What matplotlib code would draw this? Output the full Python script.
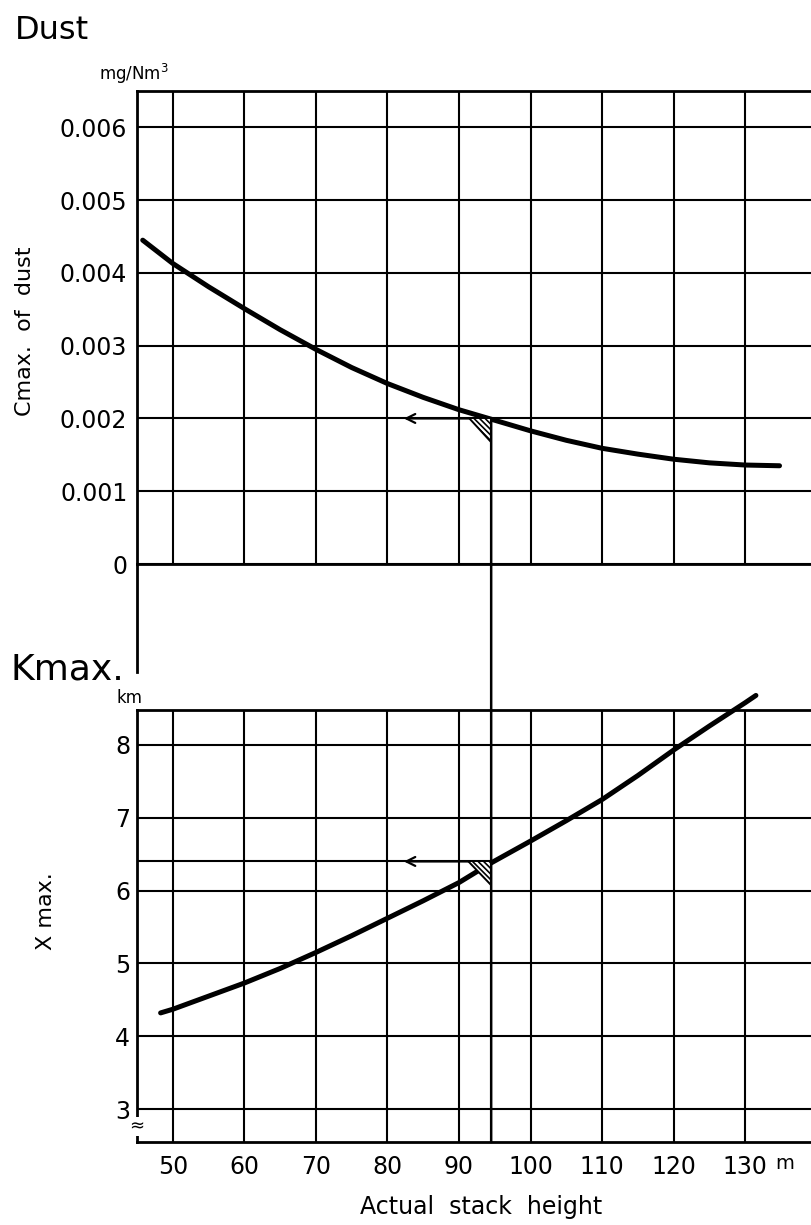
import matplotlib
matplotlib.use("Agg")
import matplotlib.pyplot as plt
from matplotlib.patches import Polygon, ConnectionPatch

# ---- data ----
stack_height_dust = [45.8, 50, 55, 60, 65, 70, 75, 80, 85, 90, 94.5, 100, 105, 110, 115, 120, 125, 130, 134.8]
cmax_dust = [0.00445, 0.00413, 0.00381, 0.00351, 0.00322, 0.00295, 0.00270, 0.00248, 0.00229, 0.00212,
             0.00199, 0.00183, 0.00170, 0.00159, 0.00151, 0.00144, 0.00139, 0.00136, 0.00135]

stack_height_x = [48.3, 50, 55, 60, 65, 70, 75, 80, 85, 90, 94.5, 100, 105, 110, 115, 120, 125, 130, 131.5]
xmax_km = [4.32, 4.37, 4.55, 4.73, 4.93, 5.15, 5.38, 5.62, 5.86, 6.11, 6.38, 6.68, 6.96, 7.25, 7.58, 7.93, 8.26, 8.58, 8.68]

x_ticks = [50, 60, 70, 80, 90, 100, 110, 120, 130]
x_tick_labels = ["50", "60", "70", "80", "90", "100", "110", "120", "130"]
dust_ticks = [0, 0.001, 0.002, 0.003, 0.004, 0.005, 0.006]
dust_tick_labels = ["0", "0.001", "0.002", "0.003", "0.004", "0.005", "0.006"]
km_ticks = [3, 4, 5, 6, 7, 8]
km_tick_labels = ["3", "4", "5", "6", "7", "8"]

reading_height = 94.5
reading_dust = 0.002
reading_km = 6.4
arrow_tip_height = 82.3

W, H = 811, 1225
fig = plt.figure(figsize=(W / 100, H / 100), dpi=100)
plt.rcParams['hatch.linewidth'] = 1.2

def frac(px_x, px_y):
    return px_x / W, 1 - px_y / H

XLIM = (45.0, 139.2)
LEFT = 137 / W
WIDTH = 1 - LEFT

# top axes: y pixels 91..564
ax1 = fig.add_axes([LEFT, 1 - 564 / H, WIDTH, (564 - 91) / H])
# bottom axes: y pixels 710..1142
ax2 = fig.add_axes([LEFT, 1 - 1142 / H, WIDTH, (1142 - 710) / H])

GRID_LW = 1.5
for ax in (ax1, ax2):
    ax.set_xlim(*XLIM)
    ax.set_xticks(x_ticks)
    for s in ("left", "top", "bottom"):
        ax.spines[s].set_linewidth(2.0)
    ax.spines["right"].set_visible(False)
    ax.grid(True, color="black", linewidth=GRID_LW)
    ax.tick_params(length=0, labelsize=17)
    ax.set_axisbelow(True)

ax1.set_ylim(0, 0.0065)
ax1.set_yticks(dust_ticks)
ax1.set_yticklabels(dust_tick_labels)
ax1.set_xticklabels([])
ax1.tick_params(axis="y", pad=7)

ax2.set_ylim(2.547, 8.48)
ax2.set_yticks(km_ticks)
ax2.set_yticklabels(km_tick_labels)
ax2.set_xticklabels(x_tick_labels)
ax2.tick_params(axis="y", pad=5)
ax2.tick_params(axis="x", pad=9)

# curves
ax1.plot(stack_height_dust, cmax_dust, color="black", linewidth=3.6, solid_capstyle="round", zorder=5)
ax2.plot(stack_height_x, xmax_km, color="black", linewidth=3.6, solid_capstyle="round", zorder=5,
         clip_on=False)

# reading lines / arrows
ax1.annotate("", xy=(arrow_tip_height, reading_dust), xytext=(reading_height, reading_dust),
             arrowprops=dict(arrowstyle="->", color="black", lw=1.6, mutation_scale=16,
                             shrinkA=0, shrinkB=0), zorder=6)
ax2.plot([XLIM[0], reading_height], [reading_km, reading_km], color="black", linewidth=GRID_LW, zorder=4)
ax2.annotate("", xy=(arrow_tip_height, reading_km), xytext=(reading_height, reading_km),
             arrowprops=dict(arrowstyle="->", color="black", lw=1.6, mutation_scale=16,
                             shrinkA=0, shrinkB=0), zorder=6)

con = ConnectionPatch(xyA=(reading_height, reading_dust), coordsA=ax1.transData,
                      xyB=(reading_height, ax2.get_ylim()[0]), coordsB=ax2.transData,
                      color="black", linewidth=1.8)
fig.add_artist(con)

# hatched right-angle markers
tri1 = Polygon([(91.4, reading_dust), (reading_height, reading_dust), (reading_height, 0.00168)],
               closed=True, facecolor="white", edgecolor="black", linewidth=1.4,
               hatch="\\\\\\\\\\\\", zorder=6)
ax1.add_patch(tri1)
tri2 = Polygon([(91.3, reading_km), (reading_height, reading_km), (reading_height, 6.08)],
               closed=True, facecolor="white", edgecolor="black", linewidth=1.4,
               hatch="\\\\\\\\\\\\", zorder=6)
ax2.add_patch(tri2)

# left spine of top panel continues into the gap
ax1.plot([0, 0], [0, -(672 - 564) / (564 - 91)], transform=ax1.transAxes, color="black",
         linewidth=2.0, clip_on=False)

# axis break mark on bottom panel
ax2.text(0, 2.76, "≈", transform=ax2.get_yaxis_transform(), ha="center", va="center",
         fontsize=13, bbox=dict(facecolor="white", edgecolor="none", pad=0.5), zorder=7, clip_on=False)

# texts
fig.text(*frac(15, 39), "Dust", fontsize=23, ha="left", va="baseline")
fig.text(*frac(99, 80), "mg/Nm$^3$", fontsize=12, ha="left", va="baseline")
fig.text(*frac(25, 331), "Cmax.  of  dust", fontsize=16, rotation=90, ha="center", va="center")
fig.text(*frac(10, 679), "Kmax.", fontsize=26, ha="left", va="baseline")
fig.text(*frac(116, 703), "km", fontsize=12, ha="left", va="baseline")
fig.text(*frac(46, 911), "X max.", fontsize=16, rotation=90, ha="center", va="center")
fig.text(*frac(775, 1169), "m", fontsize=14, ha="left", va="baseline")
fig.text(*frac(481, 1207), "Actual  stack  height", fontsize=17, ha="center", va="center")

fig.savefig("out.png", dpi=100, facecolor="white")
